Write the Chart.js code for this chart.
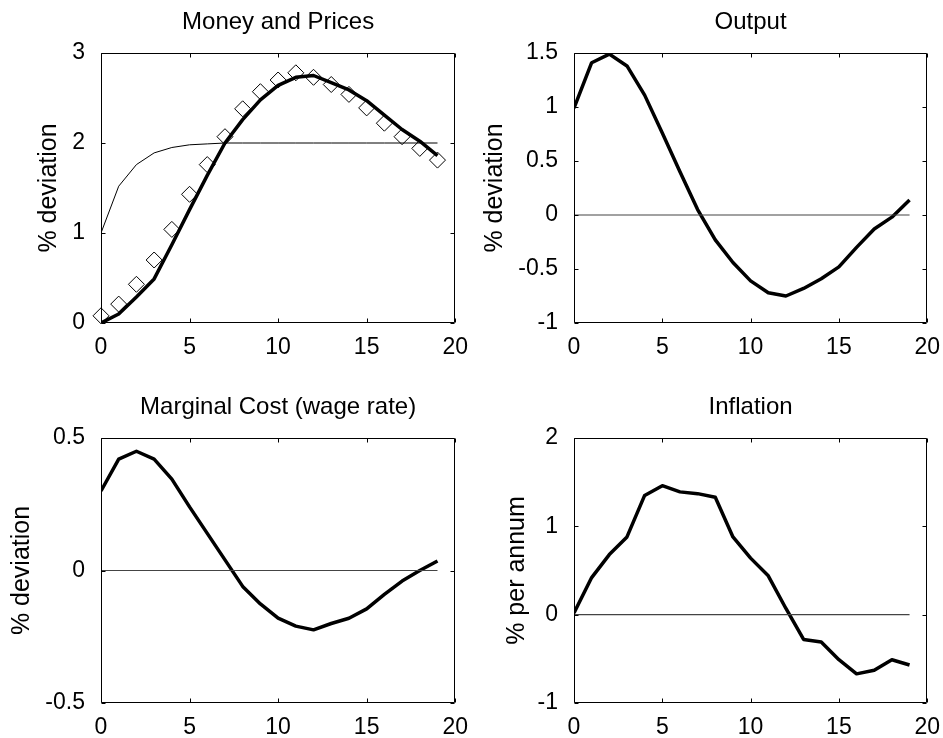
<!DOCTYPE html>
<html>
<head>
<meta charset="utf-8">
<title>Impulse responses</title>
<script src="https://cdn.jsdelivr.net/npm/chart.js@4.4.0/dist/chart.umd.min.js"></script>
<style>
  body { margin: 0; background: #fff; }
  #fig { position: relative; width: 943px; height: 738px; }
  canvas { position: absolute; }
</style>
</head>
<body>
<div id="fig">
  <canvas id="c1" width="471" height="369" style="left:0;top:0"></canvas>
  <canvas id="c2" width="472" height="369" style="left:471px;top:0"></canvas>
  <canvas id="c3" width="471" height="369" style="left:0;top:369px"></canvas>
  <canvas id="c4" width="472" height="369" style="left:471px;top:369px"></canvas>
</div>
<script>
// quarters after the shock
var periods = [0, 1, 2, 3, 4, 5, 6, 7, 8, 9, 10, 11, 12, 13, 14, 15, 16, 17, 18, 19];

// Money and Prices
var money = [1.0, 1.52, 1.76, 1.89, 1.95, 1.98, 1.99, 2.0, 2.0, 2.0, 2.0, 2.0, 2.0, 2.0, 2.0, 2.0, 2.0, 2.0, 2.0, 2.0];
var prices = [0.0, 0.10, 0.29, 0.49, 0.87, 1.26, 1.64, 2.0, 2.26, 2.48, 2.64, 2.73, 2.75, 2.67, 2.59, 2.47, 2.31, 2.15, 2.02, 1.86];
var pricesAlt = [0.08, 0.21, 0.43, 0.70, 1.04, 1.43, 1.76, 2.07, 2.38, 2.57, 2.70, 2.78, 2.73, 2.65, 2.54, 2.39, 2.22, 2.07, 1.94, 1.81];

// Output
var output = [0.99, 1.41, 1.49, 1.38, 1.11, 0.76, 0.40, 0.05, -0.23, -0.44, -0.61, -0.72, -0.75, -0.68, -0.59, -0.48, -0.30, -0.13, -0.02, 0.14];

// Marginal Cost (wage rate)
var margCost = [0.30, 0.42, 0.45, 0.42, 0.345, 0.24, 0.14, 0.04, -0.06, -0.126, -0.18, -0.21, -0.224, -0.20, -0.18, -0.145, -0.09, -0.04, 0.0, 0.036];

// Inflation
var inflation = [0.02, 0.42, 0.68, 0.88, 1.35, 1.46, 1.39, 1.37, 1.33, 0.88, 0.64, 0.44, 0.07, -0.28, -0.31, -0.51, -0.67, -0.63, -0.51, -0.57];

// reference line at zero
var zeroX = [0, 19];
var zeroY = [0, 0];

var xTicks = [0, 20, 5];

Chart.defaults.font.family = '"Liberation Sans", Arial, Helvetica, sans-serif';
Chart.defaults.font.size = 23;
Chart.defaults.color = '#000';

function pts(xs, ys) {
  return xs.map(function(x, i) { return { x: x, y: ys[i] }; });
}

function thick(values) {
  return { data: pts(periods, values), borderColor: '#000', borderWidth: 3.5,
           pointRadius: 0, tension: 0, borderJoinStyle: 'round' };
}
function thin(values) {
  return { data: pts(periods, values), borderColor: '#000', borderWidth: 1,
           pointRadius: 0, tension: 0 };
}
function zeroLine() {
  return { data: pts(zeroX, zeroY), borderColor: '#444', borderWidth: 1.2, pointRadius: 0 };
}

// MATLAB style box with inward ticks on all four sides
var boxTicks = {
  id: 'boxTicks',
  afterDatasetsDraw: function(chart) {
    var ctx = chart.ctx, a = chart.chartArea;
    var xs = chart.scales.x, ys = chart.scales.y;
    var L = Math.round(a.left) + 0.5, R = Math.round(a.right) - 0.5;
    var T = Math.round(a.top) + 0.5, B = Math.round(a.bottom) - 0.5;
    var len = 4;
    ctx.save();
    ctx.strokeStyle = '#000';
    ctx.lineWidth = 1;
    ctx.beginPath();
    ctx.rect(L, T, R - L, B - T);
    xs.ticks.forEach(function(t) {
      var p = Math.round(xs.getPixelForValue(t.value)) + 0.5;
      ctx.moveTo(p, B); ctx.lineTo(p, B - len);
      ctx.moveTo(p, T); ctx.lineTo(p, T + len);
    });
    ys.ticks.forEach(function(t) {
      var p = Math.round(ys.getPixelForValue(t.value)) + 0.5;
      ctx.moveTo(L, p); ctx.lineTo(L + len, p);
      ctx.moveTo(R, p); ctx.lineTo(R - len, p);
    });
    ctx.stroke();
    ctx.restore();
  }
};

function plain(v) { return String(v); }

function panel(id, p) {
  new Chart(document.getElementById(id), {
    type: 'line',
    data: { datasets: p.datasets },
    options: {
      responsive: false,
      animation: false,
      devicePixelRatio: 1,
      layout: { padding: { left: 0, right: p.right, top: 0, bottom: 0 } },
      plugins: {
        legend: { display: false },
        tooltip: { enabled: false },
        title: { display: true, text: p.title, fullSize: false,
                 font: { size: 24, weight: 'normal' },
                 padding: { top: p.titleTop, bottom: p.titleBottom } }
      },
      scales: {
        x: {
          type: 'linear', min: xTicks[0], max: xTicks[1],
          ticks: { stepSize: xTicks[2], padding: 3, maxRotation: 0, callback: plain },
          grid: { display: false }, border: { display: false },
          afterFit: function(s) { s.height = p.xHeight; }
        },
        y: {
          type: 'linear', min: p.yTicks[0], max: p.yTicks[1],
          ticks: { stepSize: p.yTicks[2], padding: 8, callback: plain },
          grid: { display: false }, border: { display: false },
          title: { display: true, text: p.yLabel, font: { size: 25 },
                   padding: { top: p.yLabelPad, bottom: 0 } },
          afterFit: function(s) { s.width = p.yWidth; }
        }
      }
    },
    plugins: [boxTicks]
  });
}

var diamonds = {
  data: pts(periods, pricesAlt), showLine: false, pointStyle: 'rectRot',
  pointRadius: 8, pointBorderWidth: 1, pointBorderColor: '#000',
  pointBackgroundColor: 'rgba(0,0,0,0)', clip: false
};

panel('c1', { title: 'Money and Prices', yLabel: '% deviation', yTicks: [0, 3, 1],
  datasets: [thin(money), thick(prices), diamonds],
  right: 15, yWidth: 101, xHeight: 46, titleTop: 8, titleBottom: 16.2, yLabelPad: 34 });

panel('c2', { title: 'Output', yLabel: '% deviation', yTicks: [-1, 1.5, 0.5],
  datasets: [zeroLine(), thick(output)],
  right: 14, yWidth: 103, xHeight: 46, titleTop: 8, titleBottom: 16.2, yLabelPad: 9 });

panel('c3', { title: 'Marginal Cost (wage rate)', yLabel: '% deviation', yTicks: [-0.5, 0.5, 0.5],
  datasets: [zeroLine(), thick(margCost)],
  right: 15, yWidth: 101, xHeight: 35, titleTop: 24, titleBottom: 16.2, yLabelPad: 7 });

panel('c4', { title: 'Inflation', yLabel: '% per annum', yTicks: [-1, 2, 1],
  datasets: [zeroLine(), thick(inflation)],
  right: 14, yWidth: 103, xHeight: 35, titleTop: 24, titleBottom: 16.2, yLabelPad: 31 });
</script>
</body>
</html>
